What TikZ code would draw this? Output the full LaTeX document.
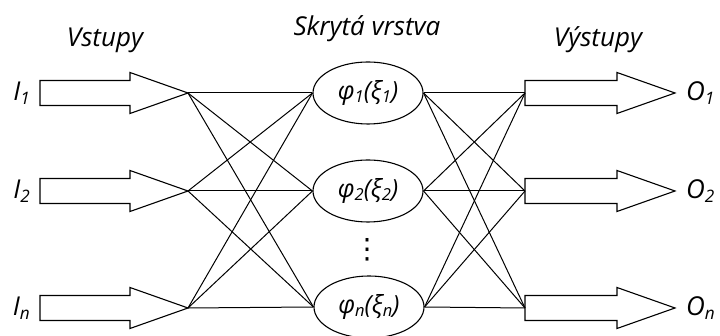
\documentclass[tikz,border=0pt]{standalone}
\usepackage{fontspec}
\usepackage{graphicx}
\setmainfont{Open Sans}
\newfontfamily\symfont{DejaVu Sans}
\usetikzlibrary{shapes.geometric}
\newcommand\lsub[1]{\raisebox{-0.25ex}{\scalebox{0.66}{#1}}}
\begin{document}
\begin{tikzpicture}[x=1pt,y=1pt,
  lbl/.style={font=\itshape\fontsize{26}{30}\selectfont, inner sep=0pt},
  hid/.style={draw, line width=1.1pt, ellipse, minimum width=110pt, minimum height=62pt, inner sep=0pt, font=\itshape\fontsize{25}{29}\selectfont},
  bigarrow/.style={draw, line width=1.1pt, fill=white},
  conn/.style={line width=1pt}]
\useasboundingbox (0,0) rectangle (720,336);
% titles
\node[lbl] (tin) at (105,296) {Vstupy};
\node[lbl] (thid) at (367,307) {Skrytá vrstva};
\node[lbl] (tout) at (598,296) {Výstupy};
% hidden nodes
\node[hid] (h1) at (368,243) {φ\lsub{1}(ξ\lsub{1})};
\node[hid] (h2) at (368,145) {φ\lsub{2}(ξ\lsub{2})};
\node[hid] (h3) at (369,29) {φ\lsub{n}(ξ\lsub{n})};
\node[font=\symfont\fontsize{28}{30}\selectfont, inner sep=0pt] (dots) at (367,86) {⋮};
% input and output arrows
\foreach \i/\y/\s in {1/243/1, 2/145/2, 3/28/n}{
  \draw[bigarrow] (40,\y+12.5) -- (130,\y+12.5) -- (130,\y+20.5) -- (188,\y)
     -- (130,\y-20.5) -- (130,\y-12.5) -- (40,\y-12.5) -- cycle;
  \coordinate (in\i) at (188,\y);
  \node[lbl, anchor=east] (I\i) at (30,\y) {I\lsub{\s}};
  \draw[bigarrow] (525,\y+12.5) -- (617,\y+12.5) -- (617,\y+20.5) -- (675,\y)
     -- (617,\y-20.5) -- (617,\y-12.5) -- (525,\y-12.5) -- cycle;
  \coordinate (out\i) at (525,\y);
  \node[lbl, anchor=west] (O\i) at (686,\y) {O\lsub{\s}};
}
% connections
\foreach \i in {1,2,3}{
  \foreach \j in {1,2,3}{
    \draw[conn] (in\i) -- (h\j.west);
    \draw[conn] (h\i.east) -- (out\j);
  }
}
\end{tikzpicture}
\end{document}
